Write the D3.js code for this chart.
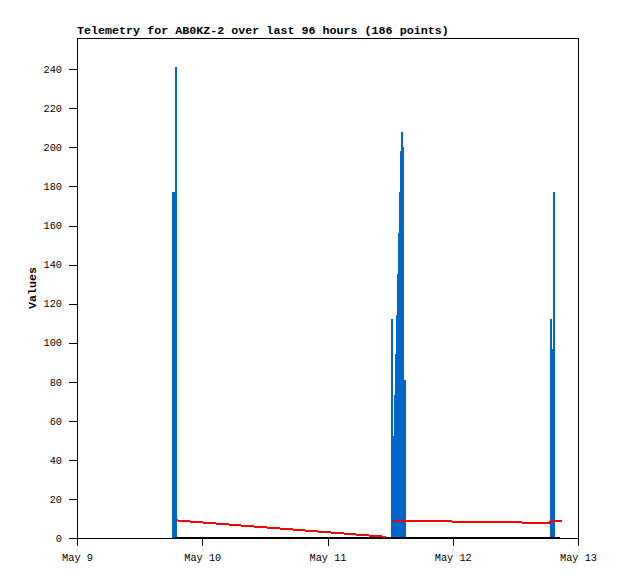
<!DOCTYPE html>
<html>
<head>
<meta charset="utf-8">
<script src="https://cdn.jsdelivr.net/npm/d3@7"></script>
<style>
  html, body { margin: 0; padding: 0; background: #fff; }
  svg { display: block; }
</style>
</head>
<body>
<script>
// ---- data ----
const titleText = "Telemetry for AB0KZ-2 over last 96 hours (186 points)";
const yLabel = "Values";
const xDomain = ["2024-05-09 00:00", "2024-05-13 00:00"];
const yTicks = [0, 20, 40, 60, 80, 100, 120, 140, 160, 180, 200, 220, 240];

// blue impulses
const blueTimes = [
  "2024-05-09 18:29", "2024-05-09 18:47", "2024-05-09 18:58",
  "2024-05-11 12:22", "2024-05-11 12:31", "2024-05-11 12:39", "2024-05-11 12:54",
  "2024-05-11 13:05", "2024-05-11 13:17", "2024-05-11 13:28", "2024-05-11 13:40",
  "2024-05-11 13:51", "2024-05-11 14:03", "2024-05-11 14:14", "2024-05-11 14:26",
  "2024-05-11 14:37", "2024-05-11 14:49",
  "2024-05-12 18:50", "2024-05-12 19:07", "2024-05-12 19:24"
];
const blueValues = [
  177, 177, 241,
  112, 31, 52, 73,
  94, 114, 135, 156,
  177, 198, 208, 200,
  80, 81,
  112, 97, 177
];

// red line (null = gap)
const redTimes = [
  "2024-05-09 19:04", "2024-05-11 11:13", "2024-05-11 11:50",
  "2024-05-11 12:33", "2024-05-11 22:19", "2024-05-12 11:44",
  "2024-05-12 18:27", "2024-05-12 18:50", "2024-05-12 20:56"
];
const redValues = [9.0, 0.6, null, 8.8, 8.5, 8.0, 7.7, 8.7, 8.7];

// black line
const blackTimes = ["2024-05-09 18:47", "2024-05-12 20:33"];
const blackValues = [0, 0];

// ---- chart ----
const W = 618, H = 579;
const mL = 77, mR = 578, mT = 38, mB = 538;
const parse = d3.timeParse("%Y-%m-%d %H:%M");

const x = d3.scaleTime().domain(xDomain.map(parse)).range([mL, mR]);
const y = d3.scaleLinear().domain([0, 256]).range([mB, mT]);

const svg = d3.select("body").append("svg").attr("width", W).attr("height", H);
svg.append("rect").attr("width", W).attr("height", H).attr("fill", "#fff");

const mono = "'Liberation Mono', 'DejaVu Sans Mono', monospace";

// axes
const xAxis = d3.axisBottom(x)
  .ticks(d3.timeDay.every(1))
  .tickFormat(d3.timeFormat("%b %-d"))
  .tickSizeInner(8).tickSizeOuter(0).tickPadding(6);
const gx = svg.append("g").attr("transform", `translate(0,${mB})`).call(xAxis);
gx.select(".domain").remove();
gx.selectAll("line").attr("stroke", "#000").attr("shape-rendering", "crispEdges");
gx.selectAll("text").attr("font-family", mono).attr("font-size", "10.3px").attr("fill", "#000")
  .attr("dy", "0.9em");

const yAxis = d3.axisLeft(y).tickValues(yTicks).tickFormat(d3.format("d"))
  .tickSizeInner(8).tickSizeOuter(0).tickPadding(7);
const gy = svg.append("g").attr("transform", `translate(${mL},0)`).call(yAxis);
gy.select(".domain").remove();
gy.selectAll("line").attr("stroke", "#000").attr("shape-rendering", "crispEdges");
gy.selectAll("text").attr("font-family", mono).attr("font-size", "10.3px").attr("fill", "#000");

// blue impulses
const blue = blueTimes.map((t, i) => ({ t: parse(t), v: blueValues[i] }));
svg.append("g").selectAll("line").data(blue).join("line")
  .attr("x1", d => x(d.t)).attr("x2", d => x(d.t))
  .attr("y1", y(0)).attr("y2", d => y(d.v))
  .attr("stroke", "#0066cc").attr("stroke-width", 2)
  .attr("shape-rendering", "crispEdges");

// black line
const black = blackTimes.map((t, i) => ({ t: parse(t), v: blackValues[i] }));
svg.append("path").datum(black)
  .attr("d", d3.line().x(d => x(d.t)).y(d => y(d.v)))
  .attr("fill", "none").attr("stroke", "#000").attr("stroke-width", 2)
  .attr("shape-rendering", "crispEdges");

// red line
const red = redTimes.map((t, i) => ({ t: parse(t), v: redValues[i] }));
svg.append("path").datum(red)
  .attr("d", d3.line().defined(d => d.v !== null).x(d => x(d.t)).y(d => y(d.v)))
  .attr("fill", "none").attr("stroke", "#ff0000").attr("stroke-width", 2)
  .attr("shape-rendering", "crispEdges");

// frame
svg.append("rect")
  .attr("x", mL + 0.5).attr("y", mT + 0.5)
  .attr("width", mR - mL).attr("height", mB - mT)
  .attr("fill", "none").attr("stroke", "#000").attr("stroke-width", 1);

// title
svg.append("text").attr("x", mL).attr("y", 34)
  .attr("font-family", mono).attr("font-size", "11.7px").attr("font-weight", "bold")
  .attr("fill", "#000").text(titleText);

// y label
svg.append("text")
  .attr("transform", `translate(36,${(mT + mB) / 2}) rotate(-90)`)
  .attr("text-anchor", "middle")
  .attr("font-family", mono).attr("font-size", "11.7px").attr("font-weight", "bold")
  .attr("fill", "#000").text(yLabel);
</script>
</body>
</html>
